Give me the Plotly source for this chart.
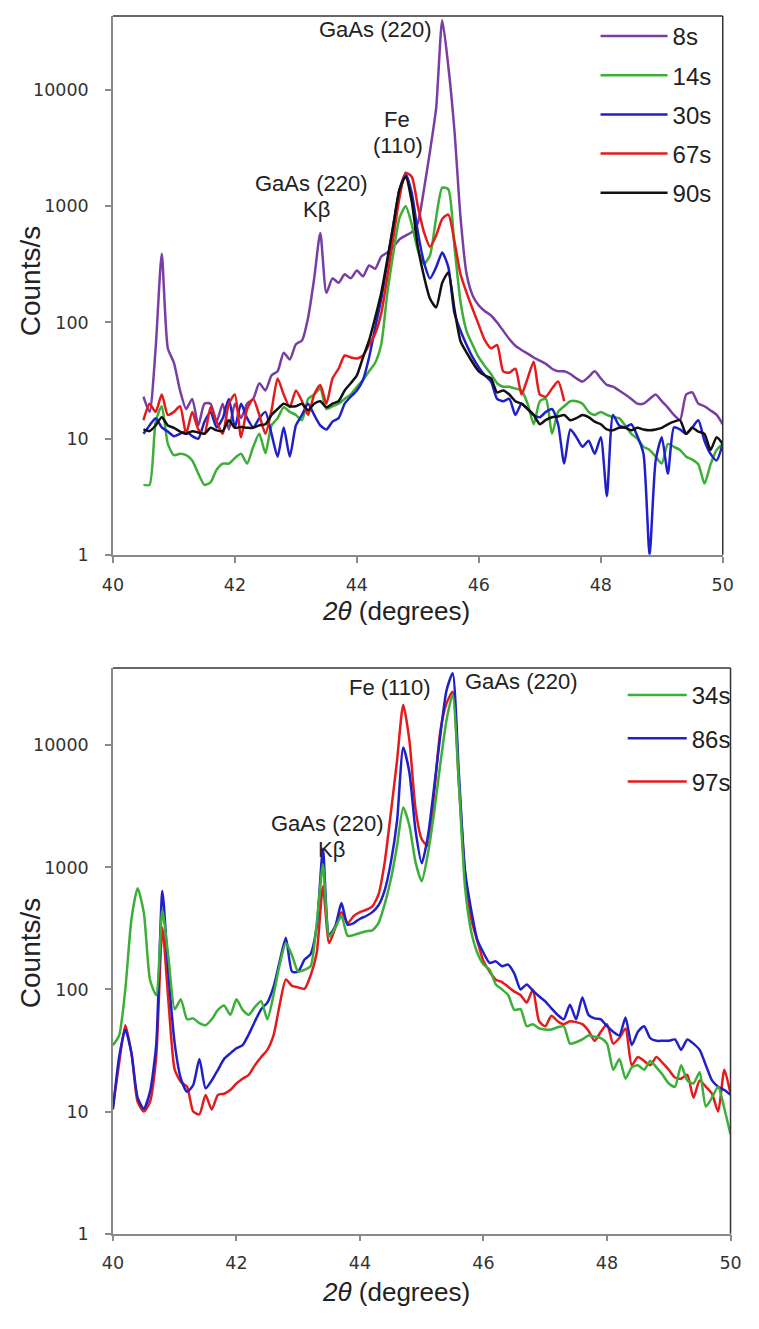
import plotly.graph_objects as go

# ---------------------------------------------------------------------------
# Data: XRD intensity (counts/s) versus 2-theta for different deposition times
# ---------------------------------------------------------------------------
two_theta_top = [round(40.5 + 0.1 * i, 1) for i in range(96)]      # 40.5 .. 50.0
two_theta_bottom = [round(40.0 + 0.1 * i, 1) for i in range(101)]  # 40.0 .. 50.0

counts_8s = [
    23, 17, 60, 390, 60, 45, 26, 18, 22, 13,
    20, 20, 14, 20, 12, 20, 15, 20, 22, 30,
    26, 35, 38, 55, 48, 65, 70, 110, 240, 590,
    180, 240, 220, 260, 240, 280, 250, 310, 290, 370,
    400, 450, 520, 560, 600, 720, 1400, 3000, 7000, 40000,
    16000, 4500, 800, 260, 170, 140, 125, 115, 100, 85,
    72, 63, 58, 54, 50, 47, 44, 40, 38, 38,
    36, 33, 31, 34, 38, 33, 29, 28, 26, 24,
    22, 20, 20, 22, 24, 21, 18.5, 16, 14.5, 24,
    25, 20, 19, 17.5, 16, 13.3]

counts_14s = [
    4.0, 4.0, 14, 19, 9, 7.2, 7.4, 7.2, 6.5, 5.0,
    4.0, 4.2, 5.4, 6.1, 6.1, 6.8, 7.4, 6.1, 8.5, 11,
    7.5, 13, 15, 18.6, 17, 16, 14.4, 22, 24, 27,
    18, 19, 20, 22, 24, 28, 32, 38, 45, 65,
    180, 400, 800, 1000, 700, 420, 320, 380, 800, 1450,
    1400, 450, 150, 84, 64, 50, 42, 36, 30, 28,
    28, 27, 26, 20, 13.3, 21, 22, 11, 17, 19,
    21, 21, 20, 17, 16, 17, 16, 15.3, 15, 13,
    11, 10, 8.5, 8, 7, 6.1, 9, 8.5, 8, 7,
    6.6, 6.0, 4.1, 6, 8, 9]

counts_30s = [
    11, 13, 15, 12.5, 11.5, 10.5, 11, 11.6, 10.5, 10,
    14, 17, 12.5, 15, 22, 12.5, 20, 15, 12.5, 15,
    17, 11, 7, 12.5, 7, 13, 16, 20, 16, 13,
    12, 14, 15, 20, 23, 26, 32, 50, 90, 160,
    330, 700, 1400, 1900, 1300, 600, 330, 240, 300, 400,
    300, 120, 85, 64, 50, 41, 35, 31, 22, 21,
    22, 16, 20, 18, 16, 15.3, 17, 18, 13.3, 6.1,
    12, 10.3, 8.5, 9.6, 7.4, 10.3, 3.2, 16, 13, 12.5,
    13.3, 10.5, 7.4, 1.0, 6.5, 10.3, 5, 12.5, 12, 11,
    12.5, 14.4, 9.6, 7.4, 6.5, 9]

# the 67 s scan stops at 47.4 degrees
counts_67s = [
    14.4, 20, 17, 24, 16, 17, 19, 11, 17, 12,
    11, 18.6, 14, 11, 20, 24, 10.3, 18, 22, 16,
    11, 17.5, 33, 24, 18.6, 26, 21, 16, 24, 29,
    20, 33, 40, 52, 50, 49, 52, 64, 80, 120,
    250, 550, 1200, 1950, 1800, 1000, 600, 450, 560, 780,
    850, 500, 260, 180, 130, 95, 70, 60, 64, 38,
    37, 40, 24, 33, 46, 24, 23, 27, 31, 21]

counts_90s = [
    12, 11.6, 13, 15.3, 13, 12.4, 11.5, 11, 11.6, 11.3,
    11, 12.4, 11.8, 11.6, 14.4, 12.4, 12.6, 12.4, 12.4, 13,
    13.3, 16, 18, 20, 19, 19, 20, 17.5, 20, 21,
    18.6, 20, 21, 26, 30, 35, 50, 70, 110, 180,
    350, 700, 1400, 1800, 1100, 450, 250, 160, 135, 220,
    270, 130, 69, 55, 45, 38, 35, 33, 25, 26,
    24, 21, 20, 18, 16, 13.3, 14.5, 15.3, 15.5, 16,
    14.4, 15, 16, 15.3, 14, 13.3, 12, 11.8, 12.4, 12.4,
    11.8, 12.4, 12, 11.8, 12, 12.4, 13.3, 14, 14.4, 11,
    12.4, 11.5, 11, 8, 10.3, 9]

counts_34s = [
    35, 42, 100, 380, 675, 425, 120, 90, 445, 180,
    69, 83, 57, 58, 53, 51, 57, 68, 74, 62,
    83, 68, 62, 72, 80, 57, 90, 160, 240, 190,
    140, 145, 155, 350, 1050, 270, 320, 400, 275, 280,
    290, 300, 305, 350, 500, 800, 1500, 3100, 2200, 1100,
    770, 1300, 2800, 7000, 16000, 26000, 5000, 700, 300, 200,
    160, 145, 110, 100, 90, 68, 69, 50, 52, 48,
    47, 47, 49, 50, 36, 37, 39, 42, 41, 40,
    36, 22, 27, 18.6, 23, 24, 22, 26, 23, 20,
    17, 16, 24, 18, 17, 21, 11, 13, 16, 10.6,
    6.5]

counts_86s = [
    10.4, 28, 47, 30, 13, 10.5, 14.5, 35, 640, 130,
    36, 18.6, 14.5, 16.5, 27, 15.5, 18, 22, 27, 30,
    33, 35, 43, 55, 69, 78, 105, 170, 265, 140,
    140, 175, 195, 330, 1420, 280, 330, 510, 340, 350,
    380, 400, 430, 490, 650, 1100, 2400, 9600, 6000, 2000,
    1080, 1800, 4500, 12000, 28000, 39000, 6000, 950, 450, 255,
    200, 165, 170, 155, 160, 135, 100, 110, 98, 88,
    80, 70, 62, 57, 75, 57, 86, 62, 58, 57,
    50, 45, 42, 59, 35, 45, 50, 40, 38, 38,
    38, 39, 32, 39, 36, 32, 24, 18, 16, 15,
    13.7]

counts_97s = [
    11, 25, 51, 30, 12, 10, 12, 28, 320, 78,
    22, 17.5, 16, 10, 9.5, 13.7, 10.4, 13.7, 14, 15,
    17, 18.6, 20, 24, 28, 32, 42, 75, 121, 107,
    104, 101, 130, 200, 700, 240, 320, 430, 350, 400,
    430, 450, 480, 600, 1100, 2800, 7500, 21500, 11000, 3000,
    1700, 1500, 4000, 13000, 22000, 27500, 5000, 900, 380, 250,
    170, 140, 120, 115, 105, 96, 90, 78, 100, 55,
    50, 61, 55, 52, 55, 54, 52, 46, 38, 45,
    52, 36, 40, 48, 24, 28, 26, 24, 28, 25,
    22, 19, 18.6, 20, 13, 18, 16, 14, 10, 22,
    14]

x_ticks = [40, 42, 44, 46, 48, 50]
y_ticks = [1, 10, 100, 1000, 10000]
y_tick_text = ["1", "10", "100", "1000", "10000"]

PURPLE = "#7A3EA3"
GREEN = "#3CAF38"
BLUE = "#2020C8"
RED = "#E41B1B"
BLACK = "#111111"

W, H = 759, 1329


def fx(px):
    return px / W


def fy(py):
    return 1 - py / H


fig = go.Figure()

top_series = [
    ("8s", counts_8s, PURPLE),
    ("14s", counts_14s, GREEN),
    ("30s", counts_30s, BLUE),
    ("67s", counts_67s, RED),
    ("90s", counts_90s, BLACK),
]
for name, vals, color in top_series:
    fig.add_trace(go.Scatter(
        x=two_theta_top[:len(vals)], y=vals, name=name, mode="lines",
        line=dict(color=color, width=2.5, shape="spline", smoothing=0.6),
        xaxis="x", yaxis="y", legend="legend", legendgroup="t" + name,
    ))

# drawing order puts 34s on top, legend order keeps 34s, 86s, 97s
bottom_series = [
    ("97s", counts_97s, RED, 3),
    ("86s", counts_86s, BLUE, 2),
    ("34s", counts_34s, GREEN, 1),
]
for name, vals, color, rank in bottom_series:
    fig.add_trace(go.Scatter(
        x=two_theta_bottom[:len(vals)], y=vals, name=name, mode="lines",
        line=dict(color=color, width=2.5, shape="spline", smoothing=0.6),
        xaxis="x2", yaxis="y2", legend="legend2", legendgroup="b" + name,
        legendrank=rank,
    ))

tick_font = dict(family="DejaVu Sans", size=17.5, color="#333333")
axis_common = dict(
    showline=True, linecolor="#8a8a8a", linewidth=1.5, mirror=False,
    showgrid=False, zeroline=False, ticks="outside", ticklen=6,
    tickcolor="#8a8a8a", tickwidth=1.5, tickfont=tick_font,
)
legend_font = dict(family="Liberation Sans", size=24, color="#222222")

fig.update_layout(
    width=W, height=H, margin=dict(l=0, r=0, t=0, b=0),
    paper_bgcolor="white", plot_bgcolor="white",
    showlegend=True,
    xaxis=dict(domain=[fx(105), fx(733)], anchor="y", range=[40, 50],
               tickvals=x_ticks, ticklabelstandoff=7, **axis_common),
    yaxis=dict(domain=[fy(559), fy(16)], anchor="x", type="log",
               range=[0, 4.64], tickvals=y_ticks, ticktext=y_tick_text,
               ticklabelstandoff=13, **axis_common),
    xaxis2=dict(domain=[fx(105), fx(741)], anchor="y2", range=[40, 50],
                tickvals=x_ticks, ticklabelstandoff=7, **axis_common),
    yaxis2=dict(domain=[fy(1243), fy(673)], anchor="x2", type="log",
                range=[0, 4.634], tickvals=y_ticks, ticktext=y_tick_text,
                ticklabelstandoff=13, **axis_common),
    legend=dict(x=fx(602), y=fy(14), xanchor="left", yanchor="top",
                font=legend_font, bgcolor="rgba(0,0,0,0)",
                itemwidth=67, tracegroupgap=5, traceorder="grouped"),
    legend2=dict(x=fx(630), y=fy(678), xanchor="left", yanchor="top",
                 font=legend_font, bgcolor="rgba(0,0,0,0)",
                 itemwidth=59, tracegroupgap=9, traceorder="grouped"),
)

# dark frame on the top and right of each plot area
for xr, yr in (("x", "y"), ("x2", "y2")):
    fig.add_shape(type="line", xref=xr + " domain", yref=yr + " domain",
                  x0=0, x1=1, y0=1, y1=1, line=dict(color="#333333", width=1.5))
    fig.add_shape(type="line", xref=xr + " domain", yref=yr + " domain",
                  x0=1, x1=1, y0=0, y1=1, line=dict(color="#333333", width=1.5))

label_font = dict(family="Liberation Sans", size=22, color="#222222")
xtitle_font = dict(family="Liberation Sans", size=26, color="#222222")
ytitle_font = dict(family="Liberation Sans", size=28, color="#222222")

# peak labels, placed in data coordinates (log axes use log10 units)
peak_labels = [
    ("x", "y", 44.30, 4.52, "GaAs (220)"),
    ("x", "y", 44.65, 3.75, "Fe"),
    ("x", "y", 44.67, 3.52, "(110)"),
    ("x", "y", 43.26, 3.20, "GaAs (220)"),
    ("x", "y", 43.34, 2.97, "Kβ"),
    ("x2", "y2", 44.49, 4.47, "Fe (110)"),
    ("x2", "y2", 46.61, 4.52, "GaAs (220)"),
    ("x2", "y2", 43.48, 3.36, "GaAs (220)"),
    ("x2", "y2", 43.54, 3.15, "Kβ"),
]
for xr, yr, xv, yv, txt in peak_labels:
    fig.add_annotation(xref=xr, yref=yr, x=xv, y=yv, text=txt,
                       showarrow=False, font=label_font,
                       xanchor="center", yanchor="middle")

# axis titles
for ycen in (616, 1302):
    fig.add_annotation(xref="paper", yref="paper", x=fx(397), y=fy(ycen),
                       text="<i>2θ</i> (degrees)", showarrow=False,
                       font=xtitle_font, xanchor="center", yanchor="middle")
for ycen in (283, 960):
    fig.add_annotation(xref="paper", yref="paper", x=fx(20), y=fy(ycen),
                       text="Counts/s", textangle=-90, showarrow=False,
                       font=ytitle_font, xanchor="center", yanchor="middle")

fig.write_html("out.html")
